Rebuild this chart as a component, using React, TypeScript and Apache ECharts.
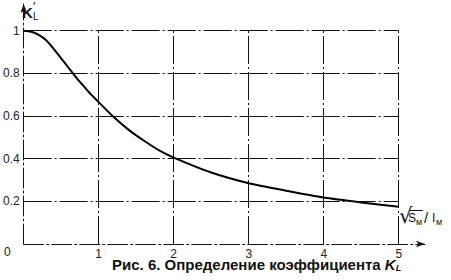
import React, { useEffect, useRef } from "react";
import * as echarts from "echarts";

const xValues = [0, 0.1, 0.2, 0.3, 0.4, 0.5, 0.6, 0.7, 0.8, 0.9, 1.0, 1.2, 1.4, 1.6, 1.8, 2.0, 2.5, 3.0, 3.5, 4.0, 4.5, 5.0];
const kValues = [1.0, 0.995, 0.98, 0.955, 0.915, 0.87, 0.825, 0.78, 0.74, 0.7, 0.665, 0.595, 0.535, 0.485, 0.44, 0.405, 0.335, 0.285, 0.25, 0.218, 0.195, 0.175];
const gridXs = [1, 2, 3, 4, 5];
const gridYs = [0.2, 0.4, 0.6, 0.8, 1.0];
const xTickLabels = ["1", "2", "3", "4", "5"];
const yTickLabels = ["0.2", "0.4", "0.6", "0.8", "1"];
const titleText = "Рис. 6. Определение коэффициента ";

export default function App() {
  const ref = useRef<HTMLDivElement>(null);
  useEffect(() => {
    const chart = echarts.init(ref.current!, null, { renderer: "svg" });
    const font = "'Liberation Sans', Arial, sans-serif";
    const gridStyle = { color: "#111", width: 1, type: [28, 3, 2, 3] as any };
    const markData: any[] = [];
    gridYs.forEach((y) => markData.push([{ coord: [0, y] }, { coord: [5, y] }]));
    gridXs.forEach((x) => markData.push([{ coord: [x, 0] }, { coord: [x, 1] }]));
    const option: any = {
      animation: false,
      backgroundColor: "#fff",
      grid: { left: 20.5, right: 26, top: 4, bottom: 36, containLabel: false },
      xAxis: {
        type: "value",
        min: 0,
        max: 5.35,
        interval: 1,
        axisLine: {
          show: true,
          symbol: ["none", "arrow"],
          symbolSize: [5, 9],
          lineStyle: { color: "#111", width: 1, type: [20, 3, 2, 3] },
        },
        axisTick: { show: false },
        splitLine: { show: false },
        axisLabel: {
          margin: 4,
          fontFamily: font,
          fontSize: 12,
          color: "#222",
          showMaxLabel: false,
          formatter: (v: number) => {
            const i = gridXs.indexOf(Math.round(v * 100) / 100);
            return i >= 0 ? xTickLabels[i] : "";
          },
        },
      },
      yAxis: {
        type: "value",
        min: 0,
        max: 1.125,
        interval: 0.2,
        axisLine: {
          show: true,
          symbol: ["none", "arrow"],
          symbolSize: [5, 9],
          lineStyle: { color: "#111", width: 1, type: [20, 3, 2, 3] },
        },
        axisTick: { show: false },
        splitLine: { show: false },
        axisLabel: {
          margin: 4,
          fontFamily: font,
          fontSize: 12,
          color: "#222",
          showMaxLabel: false,
          formatter: (v: number) => {
            const i = gridYs.findIndex((g) => Math.abs(g - v) < 1e-6);
            return i >= 0 ? yTickLabels[i] : "";
          },
        },
      },
      series: [
        {
          type: "line",
          data: [],
          silent: true,
          markLine: {
            silent: true,
            symbol: ["none", "none"],
            label: { show: false },
            lineStyle: gridStyle,
            data: markData,
          },
        },
        {
          type: "line",
          smooth: 0.25,
          showSymbol: false,
          data: xValues.map((x, i) => [x, kValues[i]]),
          lineStyle: { color: "#000", width: 2 },
          itemStyle: { color: "#000" },
        },
      ],
      graphic: [
        { type: "text", left: 4, top: 246, style: { text: "0", font: `12px ${font}`, fill: "#222" } },
        { type: "text", left: 22, top: 5, style: { text: "K", font: `bold 15px ${font}`, fill: "#111" } },
        { type: "text", left: 33, top: 0, style: { text: "′", font: `13px ${font}`, fill: "#111" } },
        { type: "text", left: 33, top: 11, style: { text: "L", font: `10px ${font}`, fill: "#111" } },
        { type: "text", left: 399, top: 205, style: { text: "√", font: `21px 'DejaVu Sans', sans-serif`, fill: "#111" } },
        { type: "line", shape: { x1: 409, y1: 210.5, x2: 423, y2: 210.5 }, style: { stroke: "#111", lineWidth: 1 } },
        { type: "text", left: 408, top: 212, style: { text: "S", font: `12px ${font}`, fill: "#111" } },
        { type: "text", left: 416, top: 217, style: { text: "м", font: `9px ${font}`, fill: "#111" } },
        { type: "text", left: 424, top: 210, style: { text: "/", font: `15px ${font}`, fill: "#111" } },
        { type: "text", left: 432, top: 212, style: { text: "I", font: `12px ${font}`, fill: "#111" } },
        { type: "text", left: 436, top: 217, style: { text: "м", font: `9px ${font}`, fill: "#111" } },
        {
          type: "text",
          left: 112,
          top: 257,
          style: {
            text: `{b|${titleText}}{k|K}{s|L}`,
            rich: {
              b: { font: `bold 15px ${font}`, fill: "#111" },
              k: { font: `italic bold 15px ${font}`, fill: "#111" },
              s: { font: `italic bold 9px ${font}`, fill: "#111", padding: [6, 0, 0, 0] },
            },
          },
        },
      ],
    };
    chart.setOption(option);
    return () => chart.dispose();
  }, []);
  return <div ref={ref} style={{ position: "fixed", left: 0, top: 0, width: 451, height: 280 }} />;
}
